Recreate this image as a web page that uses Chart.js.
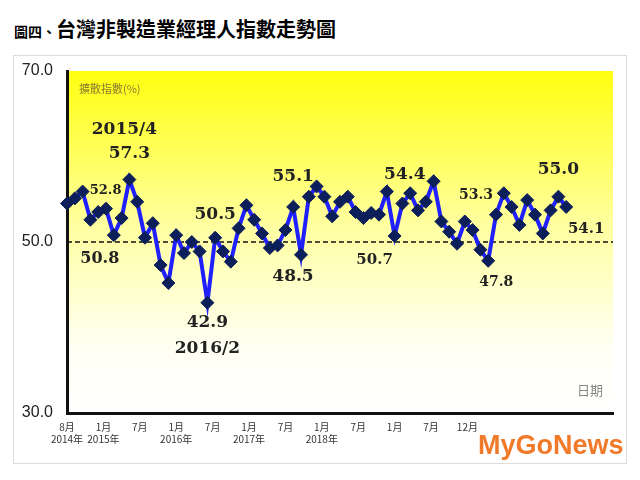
<!DOCTYPE html>
<html>
<head>
<meta charset="utf-8">
<script src="https://cdn.jsdelivr.net/npm/chart.js@4.4.0/dist/chart.umd.min.js"></script>
<style>
    body { margin: 0; background: #fff; }
    #wrap { position: relative; width: 640px; height: 480px; }
    #title { position: absolute; left: 14px; top: 14px; font-family: "Noto Sans CJK TC", serif; font-weight: bold; font-size: 20px; color: #000; }
    #title small { font-size: 14px; }
    #box { position: absolute; left: 13px; top: 55px; width: 612px; height: 407px; border: 1px solid #ddd; }
    canvas { position: absolute; left: 0; top: 0; }
</style>
</head>
<body>
<div id="wrap">
    <div id="title"><small>圖四、</small>台灣非製造業經理人指數走勢圖</div>
    <div id="box"></div>
    <canvas id="pmi-chart" width="640" height="480"></canvas>
</div>
<script>
// Aug 2014 .. Dec 2019 monthly data, axis runs a few empty months further
var months = [];
for (var y = 2014; y <= 2020; y++) {
    for (var m = 1; m <= 12; m++) {
        if (y == 2014 && m < 8) continue;
        if (y == 2020 && m > 6) continue;
        months.push(y + '/' + m);
    }
}

var pmiValues = [
    54.5, 55.1, 55.9, 52.6, 53.5, 53.9, 50.8, 52.8, 57.3, 54.7,
    50.5, 52.2, 47.3, 45.2, 50.8, 48.7, 50.0, 48.9, 42.9, 50.5,
    48.9, 47.7, 51.6, 54.3, 52.6, 51.0, 49.3, 49.6, 51.4, 54.1,
    48.5, 55.3, 56.5, 55.3, 53.0, 54.7, 55.3, 53.5, 52.8, 53.4,
    53.2, 55.9, 50.7, 54.5, 55.7, 53.7, 54.7, 57.1, 52.4, 51.2,
    49.8, 52.4, 51.4, 49.1, 47.8, 53.2, 55.7, 54.1, 52.0, 54.9,
    53.2, 51.0, 53.7, 55.3, 54.1
];

var axisLabels = [
    ['8月', '2014年'], ['1月', '2015年'], ['7月', ''], ['1月', '2016年'],
    ['7月', ''], ['1月', '2017年'], ['7月', ''], ['1月', '2018年'],
    ['7月', ''], ['1月', ''], ['7月', ''], ['12月', ''],
    '', '', '', ''
];

// annotation texts: [point index, text, dx, dy, size]
var notes = [
    [8, '2015/4', -5, -50, 17],
    [8, '57.3', 0, -26, 17],
    [7, '52.8', -16, -27, 13],
    [6, '50.8', -14, 24, 16],
    [19, '50.5', 0, -23, 17],
    [18, '42.9', 0, 20, 17],
    [18, '2016/2', 0, 46, 17],
    [30, '48.5', -8, 22, 17],
    [29, '55.1', 0, -30, 17],
    [41, '54.4', 18, -17, 17],
    [42, '50.7', -20, 24, 15],
    [55, '53.3', -20, -19, 14],
    [54, '47.8', 8, 22, 14],
    [63, '55.0', 0, -27, 17],
    [64, '54.1', 20, 22, 15]
];

var decorPlugin = {
    id: 'decor',
    beforeDraw: function (chart) {
        var ctx = chart.ctx, a = chart.chartArea;
        var g = ctx.createLinearGradient(0, a.top, 0, a.bottom);
        g.addColorStop(0, '#ffff10');
        g.addColorStop(0.45, '#ffffa0');
        g.addColorStop(0.8, '#fffff2');
        g.addColorStop(1, '#ffffff');
        ctx.save();
        ctx.fillStyle = g;
        ctx.fillRect(a.left, a.top, a.right - a.left, a.bottom - a.top);
        var y50 = chart.scales.y.getPixelForValue(50);
        ctx.strokeStyle = '#111';
        ctx.lineWidth = 1.6;
        ctx.setLineDash([5, 3]);
        ctx.beginPath();
        ctx.moveTo(a.left, y50);
        ctx.lineTo(a.right, y50);
        ctx.stroke();
        ctx.setLineDash([]);
        ctx.fillStyle = '#8a7a30';
        ctx.font = '11px "Noto Sans CJK TC"';
        ctx.textAlign = 'left';
        ctx.fillText('擴散指數(%)', a.left + 12, a.top + 22);
        ctx.fillStyle = '#888';
        ctx.font = '13px "Noto Sans CJK TC"';
        ctx.textAlign = 'right';
        ctx.fillText('日期', a.right - 10, a.bottom - 18);
        ctx.restore();
    },
    afterDatasetsDraw: function (chart) {
        var ctx = chart.ctx;
        ctx.save();
        ctx.fillStyle = '#222';
        ctx.textAlign = 'center';
        ctx.textBaseline = 'middle';
        notes.forEach(function (n) {
            var px = chart.scales.x.getPixelForValue(n[0]);
            var py = chart.scales.y.getPixelForValue(pmiValues[n[0]]);
            ctx.font = 'bold ' + n[4] + 'px "DejaVu Serif"';
            ctx.fillText(n[1], px + n[2], py + n[3]);
        });
        ctx.font = 'bold 27px "Liberation Sans"';
        ctx.textAlign = 'left';
        ctx.fillStyle = '#f07a2a';
        ctx.fillText('MyGoNews', 478, 447);
        ctx.restore();
    }
};

var chart = new Chart(
    document.getElementById('pmi-chart'),
    {
        type: 'line',
        data: {
            labels: months,
            datasets: [
                {
                    data: pmiValues,
                    borderColor: '#1f1fff',
                    borderWidth: 4,
                    tension: 0,
                    pointStyle: 'rectRot',
                    pointRadius: 6.5,
                    pointBackgroundColor: '#0c1f5a',
                    pointBorderColor: '#0c1f5a',
                    pointBorderWidth: 1
                }]
        },
        options: {
            responsive: false,
            animation: false,
            layout: { padding: { left: 12, right: 27, top: 71, bottom: 18 } },
            plugins: { legend: { display: false }, tooltip: { enabled: false } },
            scales: {
                x: {
                    display: false,
                    offset: false
                },
                xLab: {
                    type: 'category',
                    position: 'bottom',
                    labels: axisLabels,
                    offset: false,
                    grid: { display: false, drawTicks: false },
                    border: { color: '#111', width: 3 },
                    ticks: {
                        autoSkip: false,
                        maxRotation: 0,
                        padding: 8,
                        color: '#333',
                        font: { size: 10, family: '"Noto Sans CJK TC"' }
                    },
                    afterFit: function (s) { s.height = 49; }
                },
                y: {
                    min: 30,
                    max: 70,
                    grid: { display: false, drawTicks: false },
                    border: { color: '#111', width: 3 },
                    ticks: {
                        stepSize: 20,
                        padding: 14,
                        color: '#222',
                        font: { size: 16, family: '"Liberation Sans"' },
                        callback: function (v) { return v.toFixed(1); }
                    },
                    afterFit: function (s) { s.width = 55; }
                }
            }
        },
        plugins: [decorPlugin]
    }
);
</script>
</body>
</html>
